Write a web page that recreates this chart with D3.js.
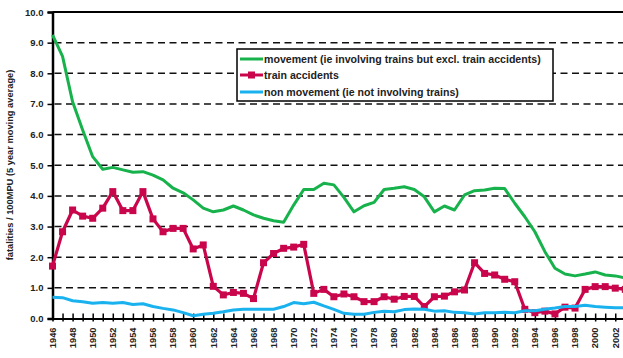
<!DOCTYPE html>
<html>
<head>
<meta charset="utf-8">
<script src="https://cdn.jsdelivr.net/npm/d3@7"></script>
<style>
  html, body { margin: 0; padding: 0; background: #fff; }
  svg { display: block; }
  text { font-family: "Liberation Sans", Arial, sans-serif; font-weight: bold; fill: #222; }
</style>
</head>
<body>
<svg id="chart" width="623" height="358"></svg>
<script>
// Years 1946–2003
const years = d3.range(1946, 2004);

// fatalities per 100 million passenger units, 5 year moving average
const movement = [
  9.25, 8.55, 7.07, 6.15, 5.28, 4.87, 4.93, 4.85, 4.77, 4.79,
  4.68, 4.52, 4.25, 4.10, 3.87, 3.60, 3.48, 3.54, 3.67, 3.54,
  3.38, 3.27, 3.19, 3.14, 3.70, 4.21, 4.21, 4.41, 4.36, 3.95,
  3.48, 3.68, 3.79, 4.21, 4.25, 4.30, 4.21, 3.97, 3.48, 3.67,
  3.54, 4.03, 4.17, 4.19, 4.25, 4.24, 3.76, 3.32, 2.83, 2.18,
  1.64, 1.45, 1.39, 1.45, 1.52, 1.42, 1.39, 1.32
];
const trainAccidents = [
  1.71, 2.83, 3.54, 3.34, 3.27, 3.60, 4.14, 3.52, 3.52, 4.14,
  3.25, 2.83, 2.94, 2.94, 2.27, 2.40, 1.05, 0.77, 0.85, 0.82,
  0.65, 1.82, 2.12, 2.29, 2.33, 2.42, 0.82, 0.95, 0.71, 0.80,
  0.71, 0.55, 0.55, 0.71, 0.63, 0.72, 0.72, 0.39, 0.71, 0.73,
  0.87, 0.93, 1.82, 1.47, 1.42, 1.28, 1.20, 0.30, 0.19, 0.24,
  0.15, 0.37, 0.34, 0.95, 1.04, 1.04, 0.99, 0.95
];
const nonMovement = [
  0.69, 0.68, 0.58, 0.55, 0.50, 0.52, 0.50, 0.52, 0.46, 0.48,
  0.39, 0.33, 0.28, 0.19, 0.09, 0.14, 0.17, 0.22, 0.28, 0.30,
  0.30, 0.30, 0.30, 0.39, 0.52, 0.48, 0.53, 0.41, 0.30, 0.17,
  0.14, 0.14, 0.20, 0.24, 0.22, 0.29, 0.31, 0.30, 0.24, 0.25,
  0.20, 0.19, 0.15, 0.19, 0.19, 0.20, 0.19, 0.25, 0.25, 0.30,
  0.34, 0.39, 0.39, 0.43, 0.39, 0.37, 0.35, 0.35
];

const yTicks = d3.range(0, 11);
const xLabelYears = d3.range(1946, 2004, 2);

const seriesNames = [
  "movement (ie involving trains but excl. train accidents)",
  "train accidents",
  "non movement (ie not involving trains)"
];
const seriesColors = ["#17b24c", "#c9064c", "#19b2ee"];

const svg = d3.select("#chart");
const W = 623;

const x = d3.scaleLinear().domain([1946, 2003]).range([52.5, 625.3]);
const y = d3.scaleLinear().domain([0, 10]).range([318.5, 12]);

// dashed horizontal gridlines
svg.append("g")
  .selectAll("line")
  .data(yTicks.filter(d => d > 0 && d < 10))
  .join("line")
  .attr("x1", x(1946) + 2).attr("x2", W)
  .attr("y1", d => y(d)).attr("y2", d => y(d))
  .attr("stroke", "#111").attr("stroke-width", 1.5)
  .attr("stroke-dasharray", "7,4.5");

// top frame line
svg.append("line")
  .attr("x1", x(1946)).attr("x2", W)
  .attr("y1", y(10)).attr("y2", y(10))
  .attr("stroke", "#000").attr("stroke-width", 2);

// y axis
const yAxis = d3.axisLeft(y).tickValues(yTicks).tickFormat(d3.format(".1f")).tickSize(5).tickPadding(4);
const gy = svg.append("g").attr("transform", `translate(${x(1946)},0)`).call(yAxis);
gy.select(".domain").attr("stroke", "#000").attr("stroke-width", 2.5);
gy.selectAll(".tick line").attr("stroke", "#000").attr("stroke-width", 1.5);
gy.selectAll(".tick text").style("font-size", "9.5px").attr("fill", "#222")
  .style("font-family", "'Liberation Sans', Arial, sans-serif").style("font-weight", "bold");

// x axis with a tick crossing the baseline at every year
const xAxis = d3.axisBottom(x).tickValues(years).tickFormat("").tickSizeInner(3).tickSizeOuter(0);
const gx = svg.append("g").attr("transform", `translate(0,${y(0)})`).call(xAxis);
gx.select(".domain").attr("stroke", "#000").attr("stroke-width", 2);
gx.selectAll(".tick line").attr("y1", -5).attr("stroke", "#000").attr("stroke-width", 1.5);

// rotated year labels
svg.append("g")
  .selectAll("text")
  .data(xLabelYears)
  .join("text")
  .attr("transform", d => `translate(${x(d)},${y(0) + 9}) rotate(-90)`)
  .attr("text-anchor", "end")
  .attr("dy", "0.35em")
  .style("font-size", "9.3px")
  .text(d => d);

// y axis title
svg.append("text")
  .attr("transform", `translate(10,${165}) rotate(-90)`)
  .attr("text-anchor", "middle")
  .attr("dy", "0.35em")
  .style("font-size", "9.3px")
  .text("fatalities / 100MPU (5 year moving average)");

// series lines
const line = d3.line().x((d, i) => x(years[i])).y(d => y(d));
const plot = svg.append("g");

plot.append("path").datum(movement)
  .attr("fill", "none").attr("stroke", seriesColors[0]).attr("stroke-width", 3)
  .attr("stroke-linejoin", "round").attr("d", line);

plot.append("path").datum(trainAccidents)
  .attr("fill", "none").attr("stroke", seriesColors[1]).attr("stroke-width", 3.2)
  .attr("stroke-linejoin", "round").attr("d", line);

plot.append("g").selectAll("rect").data(trainAccidents).join("rect")
  .attr("x", (d, i) => x(years[i]) - 3.5).attr("y", d => y(d) - 3.5)
  .attr("width", 7).attr("height", 7)
  .attr("fill", seriesColors[1]);

plot.append("path").datum(nonMovement)
  .attr("fill", "none").attr("stroke", seriesColors[2]).attr("stroke-width", 3)
  .attr("stroke-linejoin", "round").attr("d", line);

// legend
const lg = svg.append("g").attr("transform", "translate(237,49)");
lg.append("rect").attr("width", 316).attr("height", 52)
  .attr("fill", "#fff").attr("stroke", "#000").attr("stroke-width", 1.5);
const rows = lg.selectAll("g.row").data(seriesNames).join("g")
  .attr("class", "row")
  .attr("transform", (d, i) => `translate(0,${[10, 26, 43][i]})`);
rows.append("line").attr("x1", 3).attr("x2", 26).attr("y1", 0).attr("y2", 0)
  .attr("stroke", (d, i) => seriesColors[i]).attr("stroke-width", 3);
rows.filter((d, i) => i === 1).append("rect")
  .attr("x", 11).attr("y", -3.5).attr("width", 7).attr("height", 7)
  .attr("fill", seriesColors[1]);
rows.append("text").attr("x", 27).attr("dy", "0.35em")
  .style("font-size", "10.6px").text(d => d);
</script>
</body>
</html>
